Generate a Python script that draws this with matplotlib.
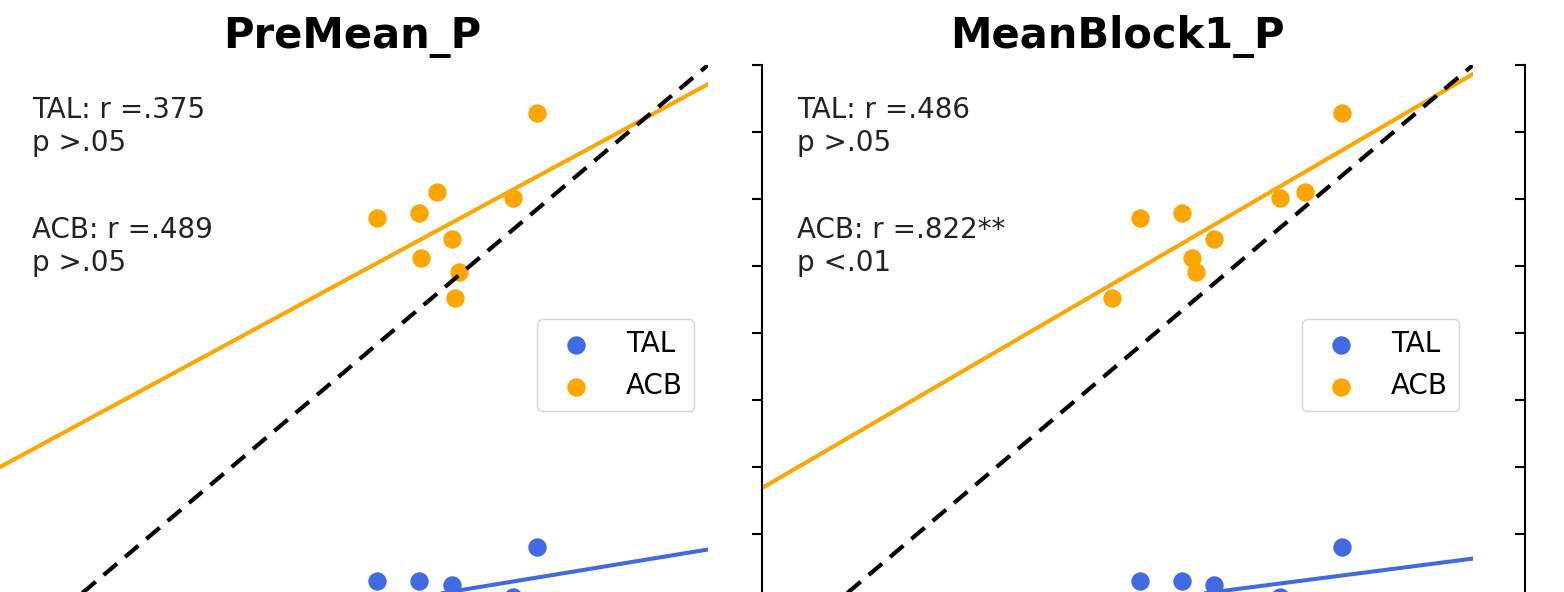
import numpy as np
import matplotlib
matplotlib.use("Agg")
import matplotlib.pyplot as plt
from matplotlib.ticker import MultipleLocator


# shared outcome (y) per participant, two groups
acb_y = [0.928, 0.810, 0.801, 0.779, 0.772, 0.740, 0.712, 0.691, 0.652]
tal_y = [0.281, 0.197, 0.206, 0.230, 0.230, 0.224, 0.179, 0.197, 0.184]

# predictors (x), one list per panel
premean_x = [0.785, 0.659, 0.754, 0.636, 0.583, 0.678, 0.639, 0.686, 0.681]
block1_x = [0.835, 0.788, 0.757, 0.634, 0.581, 0.674, 0.646, 0.651, 0.545]

titles = ["PreMean_P", "MeanBlock1_P"]
panel_x = [premean_x, block1_x]
tal_text = ["TAL: r =.375\np >.05", "TAL: r =.486\np >.05"]
acb_text = ["ACB: r =.489\np >.05", "ACB: r =.822**\np <.01"]

lims = (0.1045, 1.0)
tal_col = "royalblue"
acb_col = "orange"

fig = plt.figure(figsize=(15.64, 5.92), dpi=100)
lefts = [-3 / 1564, 762 / 1564, 1525 / 1564]
axes = [fig.add_axes([l, -73 / 592, 711 / 1564, 600 / 592]) for l in lefts]

for ax in axes:
    ax.set_xlim(lims)
    ax.set_ylim(lims)
    for s in ["top", "right", "bottom"]:
        ax.spines[s].set_visible(False)
    ax.spines["left"].set_linewidth(1.5)
    ax.yaxis.set_major_locator(MultipleLocator(0.1))
    ax.tick_params(axis="y", length=7, width=1.5, labelleft=False)
    ax.tick_params(axis="x", bottom=False, labelbottom=False)

for i in range(2):
    ax = axes[i]
    x = np.array(panel_x[i])
    ax.scatter(x, tal_y, s=175, color=tal_col, linewidths=0, label="TAL", zorder=3)
    ax.scatter(x, acb_y, s=175, color=acb_col, linewidths=0, label="ACB", zorder=3)

    xx = np.array(ax.get_xlim())
    for yv, c in [(tal_y, tal_col), (acb_y, acb_col)]:
        b, a = np.polyfit(x, yv, 1)
        ax.plot(xx, a + b * xx, color=c, lw=2.9, zorder=2)

    ax.plot([0, 1], [0, 1], color="black", lw=3, ls="--", dashes=(4.2, 2.5), zorder=4)

    ax.set_title(titles[i], fontsize=30, fontweight="bold", pad=12)
    ax.text(0.049, 0.948, tal_text[i], transform=ax.transAxes, fontsize=20,
            va="top", ha="left", color="#222222")
    ax.text(0.049, 0.748, acb_text[i], transform=ax.transAxes, fontsize=20,
            va="top", ha="left", color="#222222")
    ax.legend(loc="center right", fontsize=20)

fig.savefig("out.png", dpi=100)
